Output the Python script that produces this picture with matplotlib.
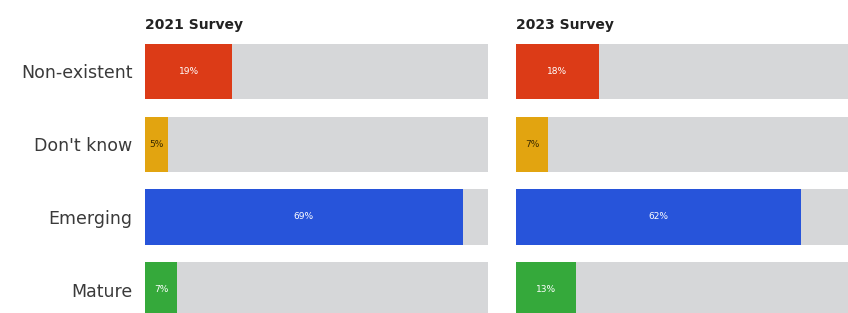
import matplotlib.pyplot as plt

# categories and survey results (%)
categories = ['Non-existent', "Don't know", 'Emerging', 'Mature']
survey_2021 = [19, 5, 69, 7]
survey_2023 = [18, 7, 62, 13]
titles = ['2021 Survey', '2023 Survey']

colors = ['#DC3B17', '#E2A410', '#2754DA', '#35A93B']
text_colors = ['white', '#3a2a00', 'white', 'white']
grey = '#D6D7D9'
scale_max = 74.5

fig = plt.figure(figsize=(8.48, 3.13), dpi=100)
ax1 = fig.add_axes([145 / 848, 0, 343 / 848, 1])
ax2 = fig.add_axes([516 / 848, 0, 343 / 848, 1])

rows = list(range(len(categories)))
for ax, values, title in zip([ax1, ax2], [survey_2021, survey_2023], titles):
    ax.barh(rows, [scale_max] * len(rows), height=0.76, color=grey)
    ax.barh(rows, values, height=0.76, color=colors)
    for i, v in enumerate(values):
        ax.text(v / 2, i, f'{v}%', ha='center', va='center',
                fontsize=6.5, color=text_colors[i])
    ax.text(0, -0.64, title, ha='left', va='center',
            fontsize=10, fontweight='bold', color='#222222')
    ax.set_xlim(0, scale_max)
    ax.set_ylim(3.322, -0.983)
    ax.set_xticks([])
    for s in ax.spines.values():
        s.set_visible(False)

ax1.set_yticks(rows)
ax1.set_yticklabels(categories, fontsize=12.5, color='#3a3a3a')
ax1.tick_params(axis='y', length=0, pad=9)
ax2.set_yticks([])

plt.savefig('out.png', dpi=100)
